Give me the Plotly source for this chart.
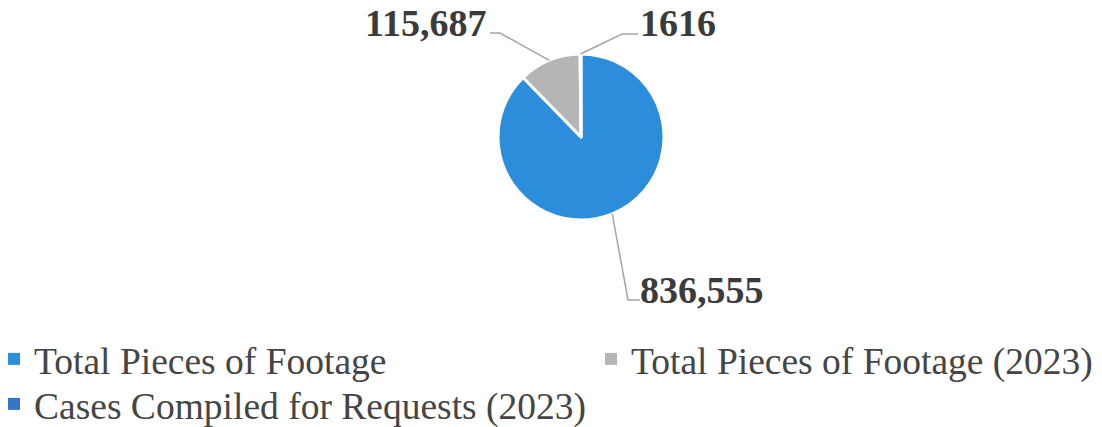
import math
import plotly.graph_objects as go

labels = ["Total Pieces of Footage", "Total Pieces of Footage (2023)", "Cases Compiled for Requests (2023)"]
values = [836555, 115687, 1616]
label_texts = ["836,555", "115,687", "1616"]
colors = ["#2c8ddb", "#b5b5b5", "#3476c6"]

W, H = 1102, 427
CX, CY, R = 581, 137, 83  # pie centre / radius in px

fig = go.Figure(go.Pie(
    labels=labels, values=values, sort=False, direction="clockwise", rotation=0,
    marker=dict(colors=colors, line=dict(color="white", width=3)),
    textinfo="none", hoverinfo="label+value", showlegend=False,
    domain=dict(x=[(CX - 200) / W, (CX + 200) / W], y=[1 - (CY + R) / H, 1 - (CY - R) / H]),
))

# legend entries (one legend per entry so they can be placed like the original)
legend_names = ["legend", "legend2", "legend3"]
legend_pos = [(8, 359), (605, 359), (8, 404)]  # px: symbol left, row centre
for i, lab in enumerate(labels):
    fig.add_trace(go.Scatter(x=[None], y=[None], mode="markers", name=lab,
                             marker=dict(symbol="square", size=12, color=colors[i]),
                             legend=legend_names[i], showlegend=True, hoverinfo="skip"))

def px2paper(x, y):
    return x / W, 1 - y / H

total = sum(values)
cum = 0
mids = []
for v in values:
    mids.append((cum + v / 2) / total * 360)
    cum += v

def edge(angle_deg):
    a = math.radians(angle_deg)
    return CX + R * math.sin(a), CY - R * math.cos(a)

layout_spec = [
    dict(elbow=(628, 300), end=(640, 300), tx=638, ty=290, xanchor="left"),
    dict(elbow=(500, 33), end=(490, 33), tx=488, ty=23, xanchor="right"),
    dict(elbow=(622, 34), end=(638, 34), tx=638, ty=23, xanchor="left"),
]

shapes = []
annotations = []
for i, spec in enumerate(layout_spec):
    ex, ey = edge(mids[i])
    pts = [(ex, ey), spec["elbow"], spec["end"]]
    path = "M " + " L ".join(f"{x / W},{1 - y / H}" for x, y in pts)
    shapes.append(dict(type="path", xref="paper", yref="paper", path=path,
                       line=dict(color="#a6a6a6", width=1.5)))
    ax_, ay_ = px2paper(spec["tx"], spec["ty"])
    annotations.append(dict(x=ax_, y=ay_, xref="paper", yref="paper", text=f"<b>{label_texts[i]}</b>",
                            showarrow=False, xanchor=spec["xanchor"], yanchor="middle",
                            font=dict(family="Liberation Serif", size=38, color="#3b3b3b")))

leg_font = dict(family="Liberation Serif", size=37.5, color="#454545")
legend_layout = {}
for i, ln in enumerate(legend_names):
    lx, ly = legend_pos[i]
    legend_layout[ln] = dict(x=(lx - 14) / W, xanchor="left", y=1 - ly / H, yanchor="middle",
                             font=leg_font, bgcolor="rgba(0,0,0,0)", borderwidth=0)

fig.update_layout(
    width=W, height=H,
    margin=dict(l=0, r=0, t=0, b=0, autoexpand=False),
    paper_bgcolor="white", plot_bgcolor="white",
    xaxis=dict(visible=False), yaxis=dict(visible=False),
    shapes=shapes, annotations=annotations,
    showlegend=True,
    **legend_layout,
)

fig.write_html("out.html", config={"displayModeBar": False},
               post_script="document.body.style.margin='0';document.body.style.overflow='hidden';")
